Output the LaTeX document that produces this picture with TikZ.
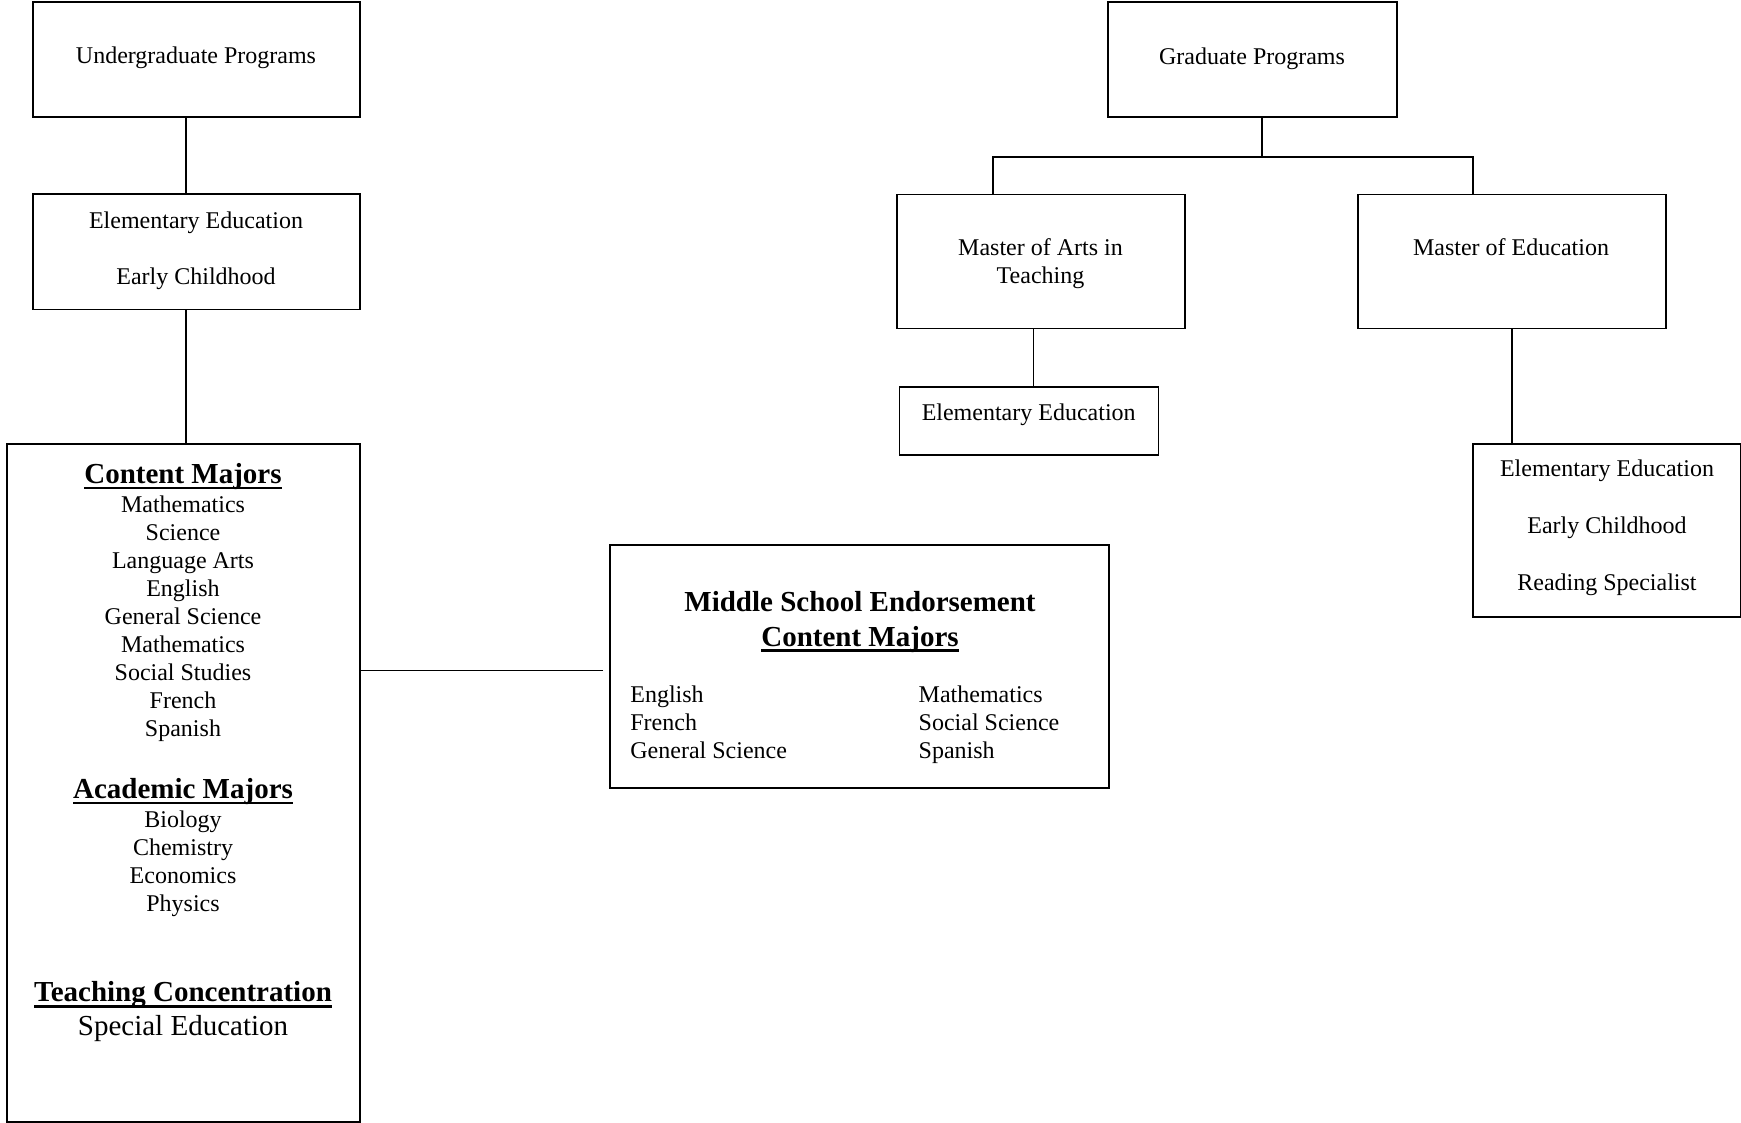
\documentclass[tikz,border=0pt]{standalone}
\usepackage{fontspec}
\setmainfont{Liberation Serif}
\usetikzlibrary{positioning}
\newsavebox\ulbox
\newcommand{\ulbold}[1]{\sbox\ulbox{#1}\rlap{\rule[-3pt]{\wd\ulbox}{1.3pt}}\usebox\ulbox}

\begin{document}
\begin{tikzpicture}[
  x=0.5pt, y=-0.5pt,
  box/.style={rectangle, draw=black, line width=0.8pt, inner sep=0pt},
  txt/.style={inner sep=0pt, anchor=base, align=center,
              font=\fontsize{12}{14}\selectfont},
  head/.style={txt, font=\fontsize{14.5}{17.2}\selectfont\bfseries},
  conn/.style={draw=black, line width=0.8pt}
]
\useasboundingbox (0,0) rectangle (1741,1123);

% undergraduate side
\node[box, minimum width=163.5pt, minimum height=57.5pt]  (ug)   at (196.2,59.8) {};
\node[box, minimum width=163.5pt, minimum height=57.7pt]  (ugel) at (196.2,252) {};
\node[box, minimum width=176.5pt, minimum height=338.85pt] (cm)  at (183.2,782.85) {};
\node[box, minimum width=249.5pt, minimum height=121.35pt] (mse) at (859.5,666.35) {};

% (multi-line texts are placed by the baseline of their last line)
\node[txt] (ugt)   at (196,64)    {Undergraduate Programs};
\node[txt] (ugelt) at (196,284.3) {Elementary Education\\[14pt]Early Childhood};

\node[head] (cmh1) at (183,483.3) {\ulbold{Content Majors}};
\node[txt]  (cml1) at (183,736.7)
  {Mathematics\\Science\\Language Arts\\English\\General Science\\Mathematics\\Social Studies\\French\\Spanish};
\node[head] (cmh2) at (183,798.3) {\ulbold{Academic Majors}};
\node[txt]  (cml2) at (183,911) {Biology\\Chemistry\\Economics\\Physics};
\node[head] (cmh3) at (183,1001.7) {\ulbold{Teaching Concentration}};
\node[txt, font=\fontsize{14.5}{17.2}\selectfont] (cml3) at (183,1035) {Special Education};

\node[head] (mseh) at (860,646) {Middle School Endorsement\\\ulbold{Content Majors}};
\node[txt, anchor=base west, align=left] (msel) at (630,758.3)   {English\\French\\General Science};
\node[txt, anchor=base west, align=left] (mser) at (918.3,758.3) {Mathematics\\Social Science\\Spanish};

% graduate side
\node[box, minimum width=144.5pt, minimum height=57.65pt]  (gp)    at (1252.2,59.65) {};
\node[box, minimum width=144.15pt, minimum height=67pt]    (mat)   at (1040.85,261.7) {};
\node[box, minimum width=154.15pt, minimum height=67pt]    (med)   at (1511.85,261.7) {};
\node[box, minimum width=129.5pt, minimum height=34.15pt]  (matel) at (1028.8,420.85) {};
\node[box, minimum width=133.9pt, minimum height=86.35pt]  (medel) at (1606.6,530.35) {};

\node[txt] (gpt)    at (1252,64.5)   {Graduate Programs};
\node[txt] (matt)   at (1040.5,284)  {Master of Arts in\\Teaching};
\node[txt] (medt)   at (1511,256)    {Master of Education};
\node[txt] (matelt) at (1028.7,420.7) {Elementary Education};
\node[txt] (medelt) at (1607,590.7)
  {Elementary Education\\[14.5pt]Early Childhood\\[14.5pt]Reading Specialist};

% connectors
\draw[conn] ([xshift=-5pt]ug.south) -- ([xshift=-5pt]ugel.north);
\draw[conn] ([xshift=-5pt]ugel.south) -- ([xshift=-5pt]ugel.south |- cm.north);
\draw[conn, shorten <=3pt] ([yshift=-2pt]mse.west) -- ([yshift=-2pt]mse.west -| cm.east);

\coordinate[below=19.35pt of gp.south, xshift=5pt] (gpj);
\draw[conn] ([xshift=5pt]gp.south) -- (gpj);
\draw[conn] ([xshift=-24pt]mat.north) |- (gpj) -| ([xshift=-19.3pt]med.north);
\draw[conn] ([xshift=-3.75pt]mat.south) -- ([xshift=-3.75pt]mat.south |- matel.north);
\draw[conn] (med.south) -- (med.south |- medel.north);
\end{tikzpicture}
\end{document}
